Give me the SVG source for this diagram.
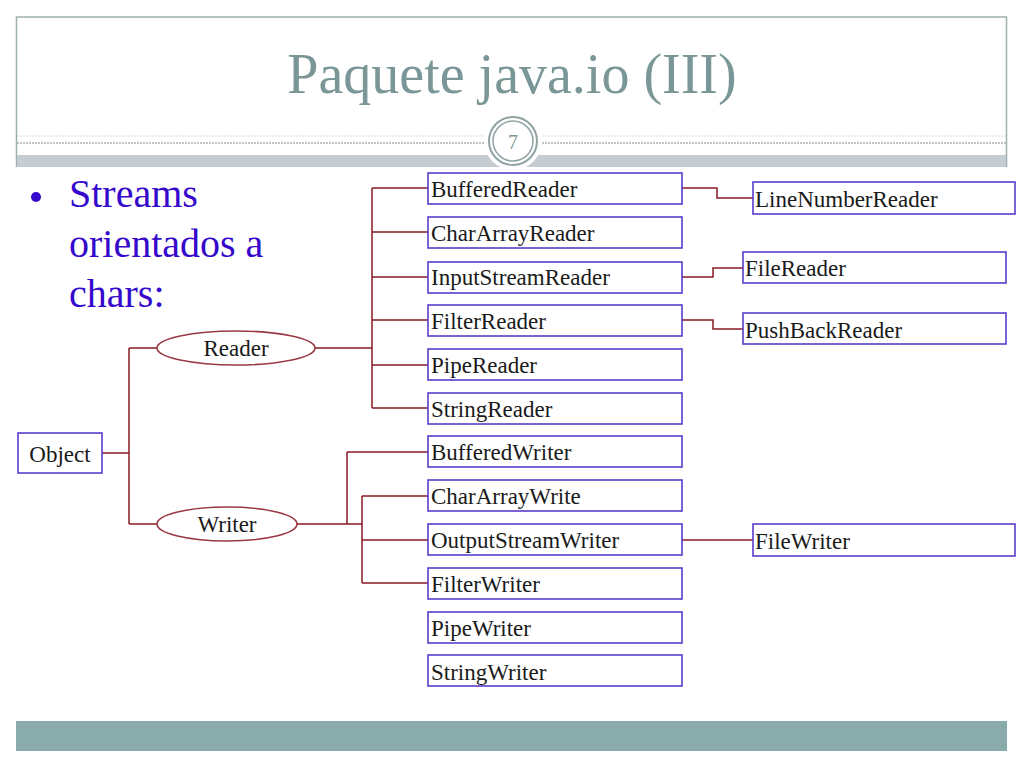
<svg xmlns="http://www.w3.org/2000/svg" width="1024" height="768" viewBox="0 0 1024 768">
<style>
.box{fill:#fff;stroke:#5a3ccc;stroke-width:1.6}
.ell{fill:#fff;stroke:#9a3a44;stroke-width:1.6}
.lbl{font-family:"Liberation Serif","Times New Roman",serif;font-size:23px;fill:#1a1a1a}
.con{fill:none;stroke:#8b1a24;stroke-width:1.5}
.bul{font-family:"Liberation Serif","Times New Roman",serif;font-size:40px;fill:#3508cc}
</style>
<rect width="1024" height="768" fill="#fff"/>
<g id="header">
<path d="M16.5,167 V17 H1006.5 V167" fill="none" stroke="#9fb0b0" stroke-width="1.5"/>
<line x1="17" y1="136" x2="1006" y2="136" stroke="#d6dcdc" stroke-width="1" stroke-dasharray="2,1"/>
<line x1="17" y1="143" x2="1006" y2="143" stroke="#a9b4b4" stroke-width="1.5" stroke-dasharray="2,1"/>
<rect x="17" y="155" width="989" height="12" fill="#c5cdd3"/>
<circle cx="513" cy="141" r="29" fill="#fff"/>
<circle cx="513" cy="141" r="24" fill="#fff" stroke="#8fa3a3" stroke-width="2"/>
<circle cx="513" cy="141" r="20" fill="none" stroke="#8fa3a3" stroke-width="1.5"/>
<text x="513" y="149" text-anchor="middle" font-family="Liberation Serif, serif" font-size="20" fill="#7f9595">7</text>
<text x="512" y="93" text-anchor="middle" font-family="Liberation Serif, serif" font-size="56" fill="#7a9696">Paquete java.io (III)</text>
</g>
<g id="footer"><rect x="16" y="721" width="991" height="30" fill="#8aabab"/></g>
<g id="bullets">
<circle cx="36" cy="197" r="5" fill="#3508cc"/>
<text class="bul" x="69" y="207">Streams</text>
<text class="bul" x="69" y="257">orientados a</text>
<text class="bul" x="69" y="307">chars:</text>
</g>
<g id="connectors">
<path class="con" d="M102,453 H129 M129,348 V524 M129,348 H157 M129,524 H157"/>
<path class="con" d="M315,348 H372 M372,188 V408 M372,188 H428 M372,232 H428 M372,277 H428 M372,320 H428 M372,365 H428 M372,408 H428"/>
<path class="con" d="M297,524 H362 M347,452 V524 M347,452 H428 M362,496 V583 M362,496 H428 M362,540 H428 M362,583 H428"/>
<path class="con" d="M682,188 H717 V198 H753"/>
<path class="con" d="M682,277 H713 V268 H743"/>
<path class="con" d="M682,320 H713 V329 H743"/>
<path class="con" d="M682,540 H753"/>
</g>
<g id="object"><rect class="box" x="18" y="433" width="84" height="40"/><text class="lbl" x="60" y="462" text-anchor="middle">Object</text></g>
<g id="reader"><ellipse class="ell" cx="236" cy="348" rx="79" ry="17"/><text class="lbl" x="236" y="356" text-anchor="middle">Reader</text></g>
<g id="writer"><ellipse class="ell" cx="227" cy="524" rx="70" ry="17"/><text class="lbl" x="227" y="532" text-anchor="middle">Writer</text></g>
<g id="bufferedreader"><rect class="box" x="428" y="173" width="254" height="31"/><text class="lbl" x="431" y="197">BufferedReader</text></g>
<g id="chararrayreader"><rect class="box" x="428" y="217" width="254" height="31"/><text class="lbl" x="431" y="241">CharArrayReader</text></g>
<g id="inputstreamreader"><rect class="box" x="428" y="262" width="254" height="31"/><text class="lbl" x="431" y="285">InputStreamReader</text></g>
<g id="filterreader"><rect class="box" x="428" y="305" width="254" height="31"/><text class="lbl" x="431" y="329">FilterReader</text></g>
<g id="pipereader"><rect class="box" x="428" y="349" width="254" height="31"/><text class="lbl" x="431" y="373">PipeReader</text></g>
<g id="stringreader"><rect class="box" x="428" y="393" width="254" height="31"/><text class="lbl" x="431" y="417">StringReader</text></g>
<g id="bufferedwriter"><rect class="box" x="428" y="436" width="254" height="31"/><text class="lbl" x="431" y="460">BufferedWriter</text></g>
<g id="chararraywrite"><rect class="box" x="428" y="480" width="254" height="31"/><text class="lbl" x="431" y="504">CharArrayWrite</text></g>
<g id="outputstreamwriter"><rect class="box" x="428" y="524" width="254" height="31"/><text class="lbl" x="431" y="548">OutputStreamWriter</text></g>
<g id="filterwriter"><rect class="box" x="428" y="568" width="254" height="31"/><text class="lbl" x="431" y="592">FilterWriter</text></g>
<g id="pipewriter"><rect class="box" x="428" y="612" width="254" height="31"/><text class="lbl" x="431" y="636">PipeWriter</text></g>
<g id="stringwriter"><rect class="box" x="428" y="655" width="254" height="31"/><text class="lbl" x="431" y="680">StringWriter</text></g>
<g id="linenumberreader"><rect class="box" x="753" y="182" width="262" height="32"/><text class="lbl" x="755" y="207">LineNumberReader</text></g>
<g id="filereader"><rect class="box" x="743" y="252" width="263" height="31"/><text class="lbl" x="745" y="276">FileReader</text></g>
<g id="pushbackreader"><rect class="box" x="743" y="313" width="263" height="31"/><text class="lbl" x="745" y="338">PushBackReader</text></g>
<g id="filewriter"><rect class="box" x="753" y="524" width="262" height="32"/><text class="lbl" x="755" y="549">FileWriter</text></g>
</svg>
